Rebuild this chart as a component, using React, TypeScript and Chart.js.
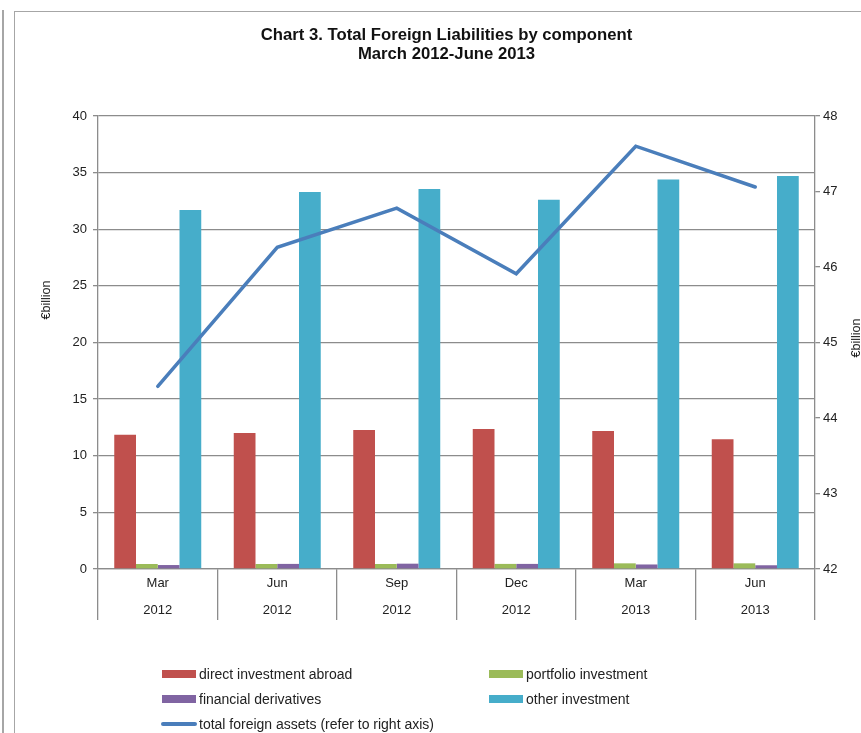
import React, { useEffect, useRef } from "react";
import { Chart, registerables } from "chart.js";

Chart.register(...registerables);

const quarters = ["Mar", "Jun", "Sep", "Dec", "Mar", "Jun"];
const years = ["2012", "2012", "2012", "2012", "2013", "2013"];
const directInvestment = [11.85, 12.0, 12.27, 12.36, 12.19, 11.45];
const portfolioInvestment = [0.44, 0.44, 0.44, 0.45, 0.5, 0.5];
const financialDerivatives = [0.35, 0.45, 0.47, 0.45, 0.4, 0.33];
const otherInvestment = [31.7, 33.3, 33.55, 32.6, 34.4, 34.7];
const totalForeignAssets = [44.42, 46.26, 46.78, 45.91, 47.6, 47.06];

const leftTicks = { min: 0, max: 40, step: 5 };
const rightTicks = { min: 42, max: 48, step: 1 };

const FONT = "'Liberation Sans', Arial, sans-serif";
const GRAY = "#8c8c8c";
const TEXT = "#222";

const RED = "#C0504D";
const GREEN = "#9BBB59";
const PURPLE = "#8064A2";
const CYAN = "#46ADCA";
const BLUE = "#4A7EBB";

export default function App() {
  const ref = useRef<HTMLCanvasElement>(null);

  useEffect(() => {
    const tickFont = { family: FONT, size: 13 };
    const chart = new Chart(ref.current!, {
      type: "bar",
      data: {
        labels: quarters.map((q, i) => [q, years[i]]),
        datasets: [
          {
            type: "line",
            label: "total foreign assets (refer to right axis)",
            data: totalForeignAssets,
            yAxisID: "y1",
            borderColor: BLUE,
            borderWidth: 3.5,
            pointRadius: 0,
            tension: 0,
            order: 0,
            borderCapStyle: "round",
          } as any,
          { label: "direct investment abroad", data: directInvestment, backgroundColor: RED, yAxisID: "y", order: 1 },
          { label: "portfolio investment", data: portfolioInvestment, backgroundColor: GREEN, yAxisID: "y", order: 1 },
          { label: "financial derivatives", data: financialDerivatives, backgroundColor: PURPLE, yAxisID: "y", order: 1 },
          { label: "other investment", data: otherInvestment, backgroundColor: CYAN, yAxisID: "y", order: 1 },
        ],
      },
      options: {
        animation: false,
        responsive: false,
        devicePixelRatio: 1,
        layout: { padding: { top: 116, left: 0, right: 0, bottom: 104 } },
        plugins: {
          legend: { display: false },
          title: { display: false },
          tooltip: { enabled: false },
        },
        datasets: { bar: { categoryPercentage: 0.728, barPercentage: 1 } },
        scales: {
          x: {
            grid: { offset: true, drawOnChartArea: false, tickLength: 51, color: GRAY, lineWidth: 1.3 },
            border: { color: GRAY, width: 1.3 },
            ticks: {
              padding: -50.5,
              font: { family: FONT, size: 13, lineHeight: 2.08 },
              color: TEXT,
              maxRotation: 0,
              autoSkip: false,
            },
            afterFit: (s: any) => {
              s.height = 60;
            },
          },
          y: {
            position: "left",
            min: leftTicks.min,
            max: leftTicks.max,
            ticks: { stepSize: leftTicks.step, padding: 6, font: tickFont, color: TEXT },
            grid: { color: GRAY, tickLength: 5, lineWidth: 1.3 },
            border: { color: GRAY, width: 1.3 },
            afterFit: (s: any) => {
              s.width = 98;
            },
          },
          y1: {
            position: "right",
            min: rightTicks.min,
            max: rightTicks.max,
            ticks: { stepSize: rightTicks.step, padding: 3, font: tickFont, color: TEXT },
            grid: { drawOnChartArea: false, tickLength: 5, color: GRAY, lineWidth: 1.3 },
            border: { color: GRAY, width: 1.3 },
            afterFit: (s: any) => {
              s.width = 46;
            },
          },
        },
      } as any,
    });
    return () => chart.destroy();
  }, []);

  const legendText: React.CSSProperties = {
    position: "absolute",
    fontSize: 14,
    lineHeight: "16px",
    color: TEXT,
    whiteSpace: "nowrap",
  };

  const swatch = (left: number, top: number, color: string) => (
    <div style={{ position: "absolute", left, top, width: 34, height: 8, background: color }} />
  );

  const axisTitle = (cx: number, cy: number) => (
    <div
      style={{
        position: "absolute",
        left: cx - 50,
        top: cy - 8,
        width: 100,
        height: 16,
        lineHeight: "16px",
        fontSize: 12.5,
        textAlign: "center",
        transform: "rotate(-90deg)",
        color: TEXT,
      }}
    >
      €billion
    </div>
  );

  return (
    <div
      style={{
        position: "absolute",
        left: 0,
        top: 0,
        width: 861,
        height: 733,
        overflow: "hidden",
        background: "#fff",
        fontFamily: FONT,
      }}
    >
      <div style={{ position: "absolute", left: 2, top: 10, width: 1.5, height: 740, background: "#a6a6a6" }} />
      <div
        style={{
          position: "absolute",
          left: 14,
          top: 11,
          width: 900,
          height: 800,
          borderLeft: "1.5px solid #a6a6a6",
          borderTop: "1.5px solid #a6a6a6",
        }}
      />
      <canvas ref={ref} width={861} height={733} style={{ position: "absolute", left: 0, top: 0 }} />
      <div
        style={{
          position: "absolute",
          left: 32,
          width: 829,
          top: 25,
          textAlign: "center",
          fontWeight: "bold",
          fontSize: 16.7,
          lineHeight: "19px",
          color: "#111",
        }}
      >
        <div>Chart 3. Total Foreign Liabilities by component</div>
        <div>March 2012-June 2013</div>
      </div>
      {axisTitle(46, 300)}
      {axisTitle(856, 338)}
      {swatch(162, 670, RED)}
      <div style={{ ...legendText, left: 199, top: 666 }}>direct investment abroad</div>
      {swatch(489, 670, GREEN)}
      <div style={{ ...legendText, left: 526, top: 666 }}>portfolio investment</div>
      {swatch(162, 695, PURPLE)}
      <div style={{ ...legendText, left: 199, top: 691 }}>financial derivatives</div>
      {swatch(489, 695, CYAN)}
      <div style={{ ...legendText, left: 526, top: 691 }}>other investment</div>
      <div
        style={{
          position: "absolute",
          left: 161,
          top: 722,
          width: 36,
          height: 4,
          borderRadius: 2,
          background: BLUE,
        }}
      />
      <div style={{ ...legendText, left: 199, top: 716 }}>total foreign assets (refer to right axis)</div>
    </div>
  );
}
